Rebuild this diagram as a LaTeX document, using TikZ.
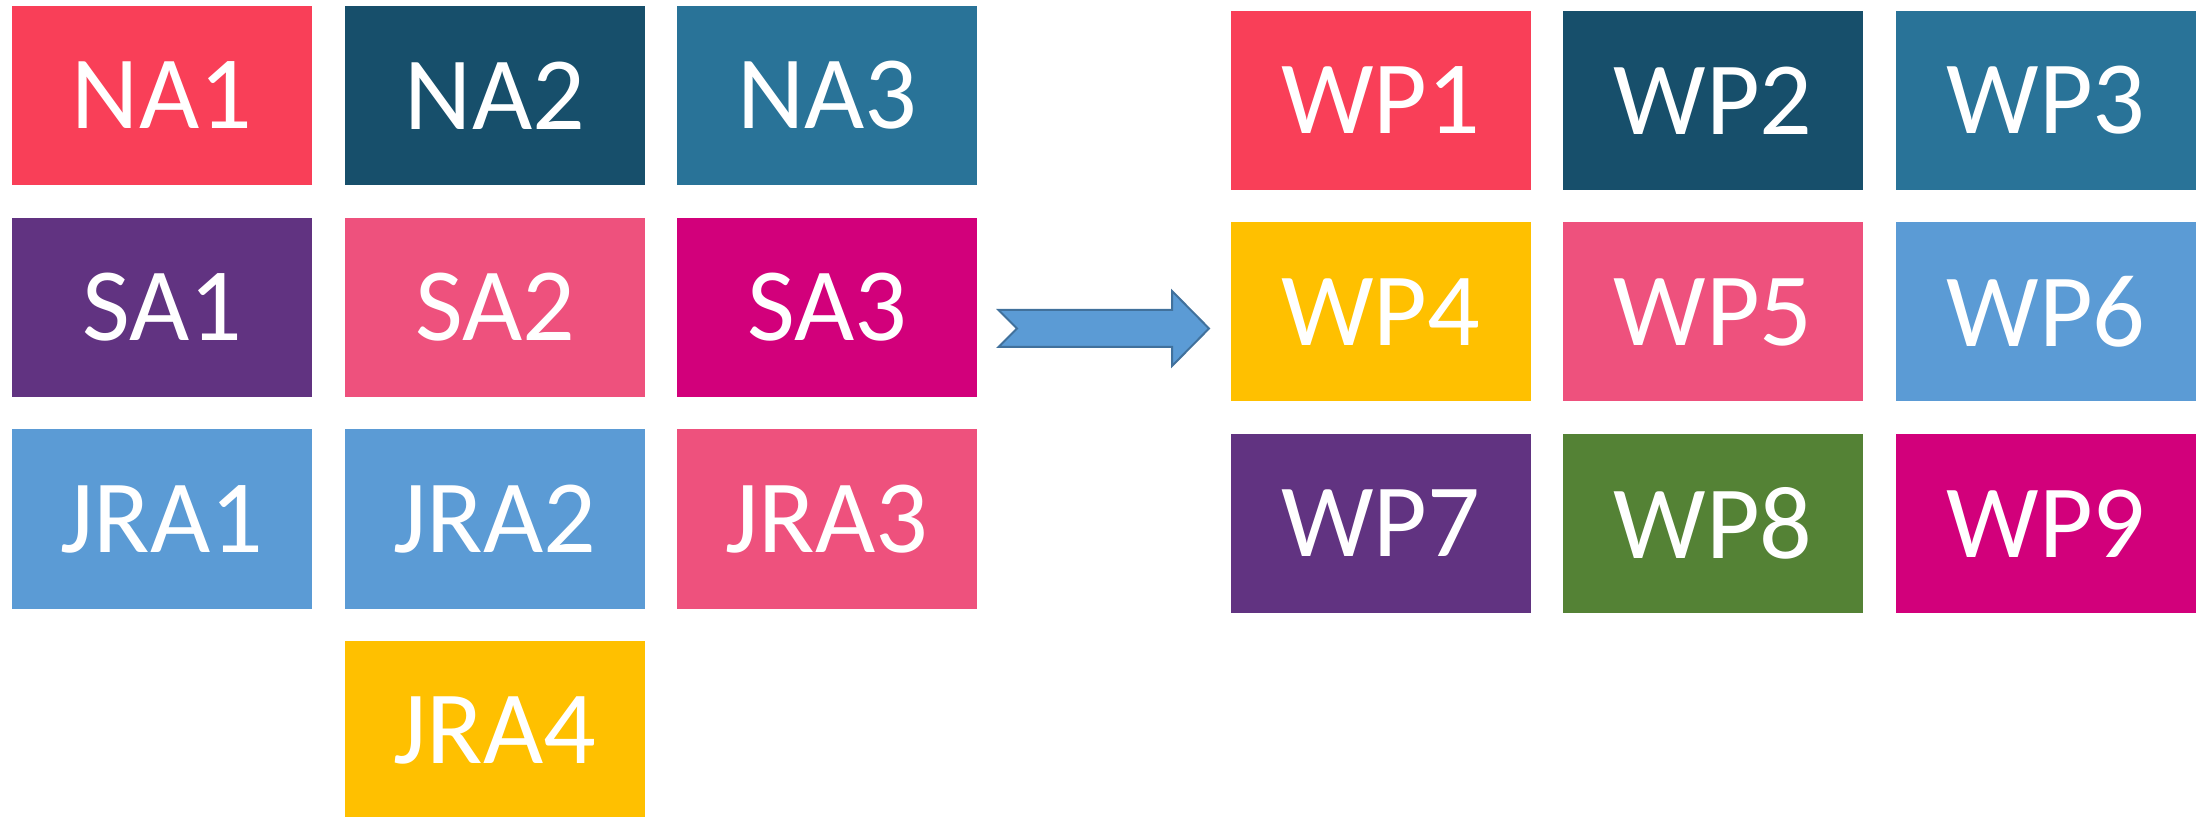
\documentclass[tikz,border=0pt]{standalone}
\usepackage{fontspec}
\setmainfont{Carlito}
\definecolor{cred}{HTML}{F93F58}
\definecolor{cnavy}{HTML}{174F6B}
\definecolor{cteal}{HTML}{297398}
\definecolor{cpurple}{HTML}{613381}
\definecolor{cpink}{HTML}{EE517D}
\definecolor{cmagenta}{HTML}{D2007B}
\definecolor{cblue}{HTML}{5B9BD5}
\definecolor{cgold}{HTML}{FFC000}
\definecolor{cgreen}{HTML}{548235}
\definecolor{carrowline}{HTML}{41719C}
\tikzset{
  tile/.style={rectangle, minimum width=150pt, minimum height=89.5pt, inner sep=0pt,
    text=white, font=\fontsize{52}{56}\selectfont},
  bigarrow/.style={fill=cblue, draw=carrowline, line width=1pt, line join=miter}
}
\begin{document}
\begin{tikzpicture}[x=0.5pt,y=-0.5pt]
\useasboundingbox (0,0) rectangle (2203,817);
% left grid
\node[tile, fill=cred]     (na1)  at (162,95.5)  {NA1};
\node[tile, fill=cnavy]    (na2)  at (495,95.5)  {NA2};
\node[tile, fill=cteal]    (na3)  at (827,95.5)  {NA3};
\node[tile, fill=cpurple]  (sa1)  at (162,307.5) {SA1};
\node[tile, fill=cpink]    (sa2)  at (495,307.5) {SA2};
\node[tile, fill=cmagenta] (sa3)  at (827,307.5) {SA3};
\node[tile, fill=cblue]    (jra1) at (162,519)   {JRA1};
\node[tile, fill=cblue]    (jra2) at (495,519)   {JRA2};
\node[tile, fill=cpink]    (jra3) at (827,519)   {JRA3};
\node[tile, fill=cgold]    (jra4) at (495,730.5) {JRA4};
% right grid
\node[tile, fill=cred]     (wp1) at (1380.5,100.5) {WP1};
\node[tile, fill=cnavy]    (wp2) at (1713,100.5)   {WP2};
\node[tile, fill=cteal]    (wp3) at (2046,100.5)   {WP3};
\node[tile, fill=cgold]    (wp4) at (1380.5,312)   {WP4};
\node[tile, fill=cpink]    (wp5) at (1713,312)     {WP5};
\node[tile, fill=cblue]    (wp6) at (2046,312)     {WP6};
\node[tile, fill=cpurple]  (wp7) at (1380.5,523.5) {WP7};
\node[tile, fill=cgreen]   (wp8) at (1713,523.5)   {WP8};
\node[tile, fill=cmagenta] (wp9) at (2046,523.5)   {WP9};
% block arrow
\draw[bigarrow] (998.5,310) -- (1172,310) -- (1172,291) -- (1209,328.5)
  -- (1172,366) -- (1172,347) -- (998.5,347) -- (1017,328.5) -- cycle;
\end{tikzpicture}
\end{document}
